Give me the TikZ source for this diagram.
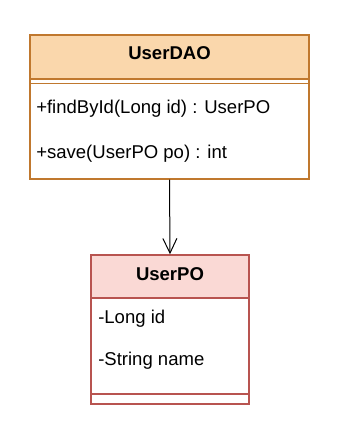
\documentclass[tikz,border=0pt]{standalone}
\usepackage{fontspec}
\setmainfont{Liberation Sans}
\usetikzlibrary{arrows.meta}
\definecolor{daofill}{HTML}{FAD7AC}
\definecolor{daoline}{HTML}{C0782E}
\definecolor{pofill}{HTML}{FAD9D5}
\definecolor{poline}{HTML}{B85450}
\begin{document}
\begin{tikzpicture}[x=0.75pt,y=-0.75pt,
  txt/.style={inner sep=0pt,anchor=base west,font=\fontsize{13.9}{16}\selectfont},
  ttl/.style={inner sep=0pt,anchor=base,font=\fontsize{13.9}{16}\selectfont\bfseries},
  boxline/.style={line width=1.1pt}]
\useasboundingbox (0,0) rectangle (342,432);
% UserDAO
\fill[daofill] (30,35) rectangle (309,79);
\draw[boxline,daoline] (30,79) -- (309,79);
\draw[boxline,daoline] (30,83.5) -- (309,83.5);
\node[draw=daoline,boxline,minimum width=279*0.75pt,minimum height=144*0.75pt,inner sep=0pt] (dao) at (169.5,107) {};
\node[ttl] (daot) at (169.5,59) {UserDAO};
\node[txt] (m1) at (36,113) {+findById(Long id) : UserPO};
\node[txt] (m2) at (36,158) {+save(UserPO po) : int};
% UserPO
\fill[pofill] (91,255) rectangle (249,298);
\draw[boxline,poline] (91,298) -- (249,298);
\draw[boxline,poline] (91,394) -- (249,394);
\node[draw=poline,boxline,minimum width=158*0.75pt,minimum height=149*0.75pt,inner sep=0pt] (po) at (170,329.5) {};
\node[ttl] (pot) at (170,280) {UserPO};
\node[txt] (a1) at (98,323) {-Long id};
\node[txt] (a2) at (98,365) {-String name};
% connector
\draw[line width=0.75pt,-{Straight Barb[length=11pt,width=10.5pt,line width=0.75pt]}] (dao.south) -- (po.north);
\end{tikzpicture}
\end{document}
